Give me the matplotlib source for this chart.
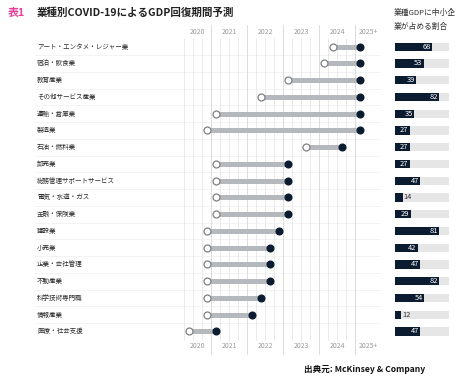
import numpy as np
import matplotlib
matplotlib.use('Agg')
import matplotlib.pyplot as plt

plt.rcParams['font.family'] = ['Noto Sans CJK JP', 'DejaVu Sans']

# データ
industries = ['アート・エンタメ・レジャー業', '宿泊・飲食業', '教育産業', 'その他サービス産業',
              '運輸・倉庫業', '製造業', '石油・燃料業', '卸売業', '総務管理サポートサービス',
              '電気・水道・ガス', '金融・保険業', '建設業', '小売業', '企業・会社管理',
              '不動産業', '科学技術専門職', '情報産業', '医療・社会支援']
start = [2024.375, 2024.125, 2023.125, 2022.375, 2021.125, 2020.875, 2023.625, 2021.125, 2021.125,
         2021.125, 2021.125, 2020.875, 2020.875, 2020.875, 2020.875, 2020.875, 2020.875, 2020.375]
end = [2025.125, 2025.125, 2025.125, 2025.125, 2025.125, 2025.125, 2024.625, 2023.125, 2023.125,
       2023.125, 2023.125, 2022.875, 2022.625, 2022.625, 2022.625, 2022.375, 2022.125, 2021.125]
sme_share = [68, 53, 39, 82, 35, 27, 27, 27, 47, 14, 29, 81, 42, 47, 82, 54, 12, 47]
year_labels = ['2020', '2021', '2022', '2023', '2024', '2025+']

W, H = 459, 381
navy = '#0c1c30'
fig = plt.figure(figsize=(W / 100, H / 100), dpi=100)

# 背景用（ピクセル座標）
bg = fig.add_axes([0, 0, 1, 1])
bg.set_xlim(0, W)
bg.set_ylim(H, 0)
bg.axis('off')

n = len(industries)
row0, step = 46.7, 16.75
top, bottom = 25, 355
ylim = ((bottom - row0) / step, (top - row0) / step)

# 行の区切り線
for i in range(n - 1):
    yy = row0 + step * (i + 0.5)
    bg.plot([35, 380], [yy, yy], color='#f1f1f1', lw=0.6, zorder=0)

# タイトル
bg.text(8, 13, '表1', color='#e8409a', fontsize=7.8, fontweight='bold', va='center')
bg.text(37, 13, '業種別COVID-19によるGDP回復期間予測', color='#222222', fontsize=7.6,
        fontweight='bold', va='center')
bg.text(394, 13, '業種GDPに中小企', color='#333333', fontsize=5.6, va='center')
bg.text(394, 27, '業が占める割合', color='#333333', fontsize=5.6, va='center')
bg.text(425, 369, '出典元: McKinsey & Company', color='#111111', fontsize=6.2,
        fontweight='bold', va='center', ha='right')

for i, name in enumerate(industries):
    bg.text(37, row0 + step * i, name, fontsize=4.7, color='#2a2a2a', va='center')

# タイムライン
ax = fig.add_axes([179 / W, 1 - bottom / H, (377 - 179) / W, (bottom - top) / H])
ax.set_xlim(2020.1, 2025.6)
ax.set_ylim(*ylim)
ax.axis('off')

for yr in range(2021, 2026):
    ax.axvline(yr, color='#dcdcdc', lw=0.7, zorder=0)
qlines = [y + q / 4 for y in range(2020, 2025) for q in range(1, 4)]
ax.vlines(qlines, (340 - row0) / step, (38 - row0) / step, color='#e6e6e6', lw=0.6, zorder=0)

label_x = [2020.62, 2021.5, 2022.5, 2023.5, 2024.5, 2025.35]
for lx, lab in zip(label_x, year_labels):
    ax.text(lx, (32 - row0) / step, lab, fontsize=5, color='#9a9a9a', ha='center', va='center')
    ax.text(lx, (346 - row0) / step, lab, fontsize=5, color='#9a9a9a', ha='center', va='center')

rows = np.arange(n)
ax.hlines(rows, start, end, color='#b5b9bd', lw=3.6, zorder=2)
ax.plot(start, rows, 'o', ms=5, mfc='white', mec='#808080', mew=0.9, zorder=3)
ax.plot(end, rows, 'o', ms=4.8, color=navy, zorder=3)

# 中小企業シェア
bx = fig.add_axes([395 / W, 1 - bottom / H, 54 / W, (bottom - top) / H])
bx.set_xlim(0, 100)
bx.set_ylim(*ylim)
bx.axis('off')
bx.barh(rows, [100] * n, height=0.5, color='#e6e6e6')
bx.barh(rows, sme_share, height=0.5, color=navy)
for i, v in enumerate(sme_share):
    if v >= 20:
        bx.text(v - 2, i, str(v), color='white', fontsize=5.4, ha='right', va='center')
    else:
        bx.text(v + 2, i, str(v), color='#333333', fontsize=5.4, ha='left', va='center')

fig.savefig('out.png', dpi=100)
